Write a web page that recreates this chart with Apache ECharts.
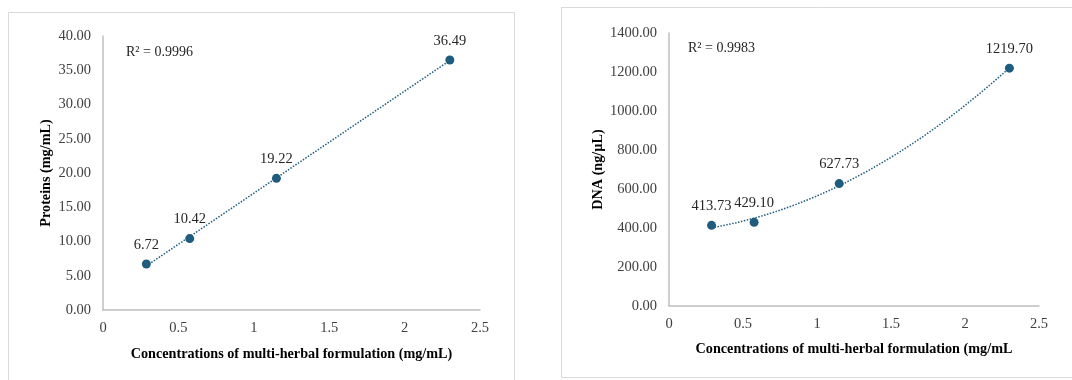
<!DOCTYPE html>
<html>
<head>
<meta charset="utf-8">
<script src="https://cdn.jsdelivr.net/npm/echarts@6/dist/echarts.min.js"></script>
<style>
  html, body { margin: 0; padding: 0; background: #fff; }
  #chart { width: 1072px; height: 380px; }
</style>
</head>
<body>
<div id="chart"></div>
<script>
// concentrations of the formulation (mg/mL)
const concentrations = [0.2875, 0.575, 1.15, 2.3];
const proteins = [6.72, 10.42, 19.22, 36.49];
const dna = [413.73, 429.1, 627.73, 1219.7];
const xTicks = [0, 0.5, 1, 1.5, 2, 2.5];
const proteinR2 = 'R² = 0.9996';
const dnaR2 = 'R² = 0.9983';

const markerColor = '#1f5c7e';
const serif = '"Liberation Serif", "Times New Roman", serif';

// least-squares polynomial fit (Excel-style trendline)
function polyFit(xs, ys, order) {
  const n = order + 1;
  const A = [];
  for (let r = 0; r < n; r++) {
    A.push(new Array(n + 1).fill(0));
    for (let c = 0; c < n; c++) {
      A[r][c] = xs.reduce((s, x) => s + Math.pow(x, r + c), 0);
    }
    A[r][n] = xs.reduce((s, x, i) => s + ys[i] * Math.pow(x, r), 0);
  }
  for (let i = 0; i < n; i++) {
    for (let k = i + 1; k < n; k++) {
      const f = A[k][i] / A[i][i];
      for (let j = i; j <= n; j++) A[k][j] -= f * A[i][j];
    }
  }
  const coef = new Array(n).fill(0);
  for (let i = n - 1; i >= 0; i--) {
    let s = A[i][n];
    for (let j = i + 1; j < n; j++) s -= A[i][j] * coef[j];
    coef[i] = s / A[i][i];
  }
  return coef;
}

function trend(xs, ys, order) {
  const coef = polyFit(xs, ys, order);
  const lo = xs[0], hi = xs[xs.length - 1];
  const pts = [];
  const steps = order === 1 ? 1 : 60;
  for (let i = 0; i <= steps; i++) {
    const x = lo + (hi - lo) * i / steps;
    pts.push([x, coef.reduce((s, c, k) => s + c * Math.pow(x, k), 0)]);
  }
  return pts;
}

const tickText = { color: '#404040', fontFamily: serif, fontSize: 14.5 };
const nameText = { color: '#000', fontFamily: serif, fontSize: 14.2, fontWeight: 'bold' };

function xAxis(gridIndex, name, gap) {
  return {
    type: 'value', gridIndex, min: 0, max: 2.5, interval: 0.5,
    name, nameLocation: 'middle', nameGap: gap, nameTextStyle: nameText,
    axisLine: { lineStyle: { color: '#bfbfbf', width: 1.5 } },
    axisTick: { show: false },
    splitLine: { show: false },
    axisLabel: { ...tickText, margin: 11, formatter: (v) => String(v) }
  };
}

function yAxis(gridIndex, name, max, interval, gap) {
  return {
    type: 'value', gridIndex, min: 0, max, interval,
    name, nameLocation: 'middle', nameGap: gap, nameTextStyle: nameText,
    axisLine: { show: true, lineStyle: { color: '#bfbfbf', width: 1.5 } },
    axisTick: { show: false },
    splitLine: { show: false },
    axisLabel: { ...tickText, margin: 12, formatter: (v) => v.toFixed(2) }
  };
}

function scatter(idx, ys) {
  return {
    type: 'scatter', xAxisIndex: idx, yAxisIndex: idx,
    data: concentrations.map((x, i) => [x, ys[i]]),
    symbolSize: 9,
    itemStyle: { color: markerColor, opacity: 1 },
    label: {
      show: true, position: 'top', distance: 7,
      color: '#262626', fontFamily: serif, fontSize: 14.5,
      formatter: (p) => p.value[1].toFixed(2)
    },
    z: 3
  };
}

function trendLine(idx, ys, order) {
  return {
    type: 'line', xAxisIndex: idx, yAxisIndex: idx,
    data: trend(concentrations, ys, order),
    showSymbol: false, silent: true,
    lineStyle: { color: markerColor, width: 1.5, type: [1.5, 1.5] },
    z: 2
  };
}

const chart = echarts.init(document.getElementById('chart'), null, { renderer: 'canvas' });

chart.setOption({
  backgroundColor: '#fff',
  animation: false,
  grid: [
    { left: 103, top: 36, right: 592, bottom: 70 },
    { left: 669, top: 33, right: 33, bottom: 74 }
  ],
  xAxis: [
    xAxis(0, 'Concentrations of multi-herbal formulation (mg/mL)', 37),
    xAxis(1, 'Concentrations of multi-herbal formulation (mg/mL', 36)
  ],
  yAxis: [
    yAxis(0, 'Proteins (mg/mL)', 40, 5, 50),
    yAxis(1, 'DNA (ng/µL)', 1400, 200, 64)
  ],
  graphic: [
    { type: 'rect', shape: { x: 8.5, y: 12.5, width: 506, height: 380 }, style: { fill: 'none', stroke: '#d9d9d9', lineWidth: 1 }, silent: true },
    { type: 'rect', shape: { x: 561.5, y: 7.5, width: 520, height: 370 }, style: { fill: 'none', stroke: '#d9d9d9', lineWidth: 1 }, silent: true },
    { type: 'text', left: 126, top: 45, style: { text: proteinR2, fill: '#262626', font: '14px ' + serif } },
    { type: 'text', left: 688, top: 41, style: { text: dnaR2, fill: '#262626', font: '14px ' + serif } }
  ],
  series: [
    trendLine(0, proteins, 1),
    scatter(0, proteins),
    trendLine(1, dna, 2),
    scatter(1, dna)
  ]
});
</script>
</body>
</html>
